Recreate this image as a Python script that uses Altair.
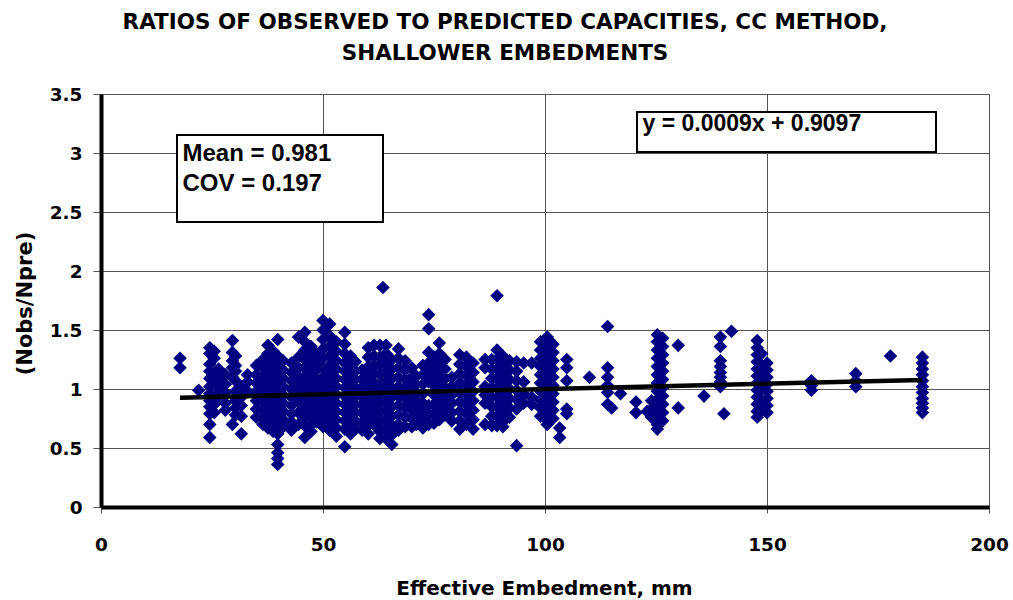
import altair as alt
import pandas as pd

# Effective embedment (mm) of each vertical cluster of points
embedment = [17.8, 22.0, 24.5, 25.5, 26.5, 28.0, 29.6, 30.3, 31.6, 33.0,
             35.0, 36.5, 37.6, 38.8, 39.8, 41.0, 42.9, 44.5, 45.9, 47.3,
             48.5, 50.0, 51.5, 53.0, 54.9, 56.2, 57.3, 58.8, 60.2, 61.5,
             62.8, 63.5, 64.2, 65.5, 67.0, 68.5, 70.0, 71.0, 72.5, 73.8,
             75.0, 76.2, 77.5, 79.0, 80.8, 82.3, 83.8, 86.5, 88.0, 89.2,
             90.5, 92.0, 93.6, 95.2, 97.0, 99.0, 100.5, 101.8, 103.3, 104.9,
             110.0, 114.1, 115.0, 117.0, 120.5, 123.0, 124.0, 125.3, 126.5, 130.0,
             135.8, 139.5, 140.3, 142.0, 147.8, 148.8, 150.0, 160.0, 170.0, 177.8,
             185.0]

# Observed / predicted ratios in each cluster
ratios = [
    [1.26, 1.18],
    [0.99],
    [1.35, 1.30, 1.21, 1.15, 1.09, 1.02, 0.96, 0.90, 0.85, 0.79, 0.70, 0.59],
    [1.32, 1.26, 1.12, 1.05, 0.93, 0.87, 0.80],
    [1.17, 1.07, 1.00, 0.94],
    [1.12, 1.04, 0.97, 0.88, 0.82],
    [1.41, 1.31, 1.24, 1.18, 1.10, 0.70],
    [1.28, 1.20, 1.15, 1.07, 0.98, 0.90, 0.84, 0.78],
    [1.02, 0.93, 0.86, 0.77, 0.62],
    [1.12, 1.06, 0.98],
    [1.20, 1.12, 1.05, 0.98, 0.90, 0.83, 0.76],
    [1.25, 1.18, 1.10, 1.03, 0.96, 0.89, 0.82, 0.75, 0.70],
    [1.37, 1.30, 1.22, 1.15, 1.08, 1.01, 0.94, 0.87, 0.80, 0.73, 0.67],
    [1.32, 1.26, 1.19, 1.12, 1.05, 0.98, 0.91, 0.84, 0.77, 0.70, 0.64],
    [1.42, 1.28, 1.20, 1.14, 1.07, 1.00, 0.93, 0.86, 0.79, 0.72, 0.62, 0.53, 0.46, 0.41, 0.36],
    [1.24, 1.16, 1.09, 1.02, 0.95, 0.88, 0.81, 0.74, 0.68],
    [1.22, 1.14, 1.07, 1.00, 0.93, 0.86, 0.79, 0.72, 0.65],
    [1.44, 1.27, 1.18, 1.10, 1.03, 0.96, 0.89, 0.80, 0.70],
    [1.48, 1.40, 1.33, 1.25, 1.18, 1.11, 1.04, 0.97, 0.90, 0.83, 0.76, 0.69, 0.59],
    [1.36, 1.28, 1.20, 1.13, 1.06, 0.99, 0.92, 0.85, 0.78, 0.70, 0.64],
    [1.30, 1.22, 1.16, 1.08, 1.01, 0.94, 0.86, 0.80, 0.72],
    [1.58, 1.50, 1.42, 1.34, 1.26, 1.18, 1.10, 1.03, 0.96, 0.89, 0.82, 0.75, 0.68],
    [1.55, 1.45, 1.36, 1.28, 1.20, 1.13, 1.06, 0.99, 0.92, 0.85, 0.78, 0.71, 0.65],
    [1.40, 1.32, 1.24, 1.17, 1.09, 1.02, 0.95, 0.88, 0.81, 0.74, 0.67, 0.60],
    [1.48, 1.38, 1.30, 1.22, 1.15, 1.08, 1.01, 0.94, 0.87, 0.80, 0.73, 0.66, 0.51],
    [1.28, 1.20, 1.12, 1.05, 0.98, 0.91, 0.84, 0.77, 0.70, 0.62],
    [1.23, 1.15, 1.08, 1.01, 0.94, 0.87, 0.80, 0.73, 0.66],
    [1.16, 1.08, 1.01, 0.94, 0.87, 0.80, 0.72, 0.65],
    [1.35, 1.27, 1.19, 1.11, 1.04, 0.97, 0.90, 0.83, 0.76, 0.69, 0.62],
    [1.37, 1.28, 1.20, 1.13, 1.05, 0.98, 0.91, 0.84, 0.77, 0.70],
    [1.37, 1.27, 1.20, 1.12, 1.04, 0.96, 0.88, 0.80, 0.72, 0.64, 0.58],
    [1.86],
    [1.37, 1.30, 1.22, 1.14, 1.06, 0.98, 0.90, 0.82, 0.74, 0.66, 0.58],
    [1.25, 1.17, 1.09, 1.01, 0.93, 0.85, 0.77, 0.69, 0.61, 0.53],
    [1.34, 1.26, 1.18, 1.10, 1.02, 0.94, 0.86, 0.78, 0.70, 0.65],
    [1.24, 1.16, 1.08, 1.00, 0.92, 0.84, 0.76, 0.68],
    [1.18, 1.10, 1.03, 0.96, 0.89, 0.82, 0.75, 0.68],
    [1.11, 1.04, 0.97, 0.90, 0.83, 0.76, 0.70],
    [1.20, 1.12, 1.04, 0.96, 0.88, 0.80, 0.72, 0.67],
    [1.63, 1.51, 1.31, 1.22, 1.14, 1.06, 0.86, 0.78, 0.70],
    [1.27, 1.19, 1.11, 1.03, 0.95, 0.87, 0.79, 0.71],
    [1.39, 1.30, 1.22, 1.14, 1.06, 0.98, 0.90, 0.82, 0.74],
    [1.25, 1.17, 1.09, 1.01, 0.93, 0.85, 0.78],
    [1.10, 1.02, 0.95, 0.88, 0.80, 0.73],
    [1.29, 1.21, 1.13, 1.05, 0.97, 0.89, 0.81, 0.73, 0.66],
    [1.27, 1.19, 1.11, 1.03, 0.95, 0.87, 0.79, 0.70],
    [1.22, 1.14, 1.06, 0.98, 0.90, 0.82, 0.74, 0.66],
    [1.25, 1.18, 1.02, 0.95, 0.88, 0.70],
    [1.25, 1.17, 1.09, 1.01, 0.93, 0.85, 0.77, 0.69],
    [1.79, 1.33, 1.25, 1.17, 1.09, 1.01, 0.93, 0.85, 0.77, 0.69],
    [1.28, 1.20, 1.12, 1.04, 0.96, 0.88, 0.80, 0.72, 0.68],
    [1.24, 1.16, 1.08, 1.00, 0.92, 0.84, 0.76],
    [1.23, 1.15, 1.07, 0.99, 0.91, 0.83, 0.52],
    [1.22, 1.06, 0.96, 0.88],
    [1.22, 0.93, 0.87],
    [1.40, 1.33, 1.26, 1.19, 1.12, 1.05, 0.98, 0.91, 0.84, 0.77],
    [1.44, 1.37, 1.30, 1.23, 1.16, 1.09, 1.02, 0.95, 0.88, 0.81, 0.74, 0.70],
    [1.38, 1.31, 1.24, 1.17, 1.10, 1.03, 0.96, 0.89, 0.82, 0.75],
    [0.67, 0.59],
    [1.25, 1.18, 1.07, 0.83, 0.79],
    [1.10],
    [1.53, 1.18, 1.10, 1.03, 0.97, 0.87],
    [0.84],
    [0.96],
    [0.89, 0.80],
    [0.81],
    [0.90, 0.83, 0.76],
    [1.46, 1.40, 1.33, 1.26, 1.19, 1.12, 1.05, 0.98, 0.91, 0.84, 0.77, 0.70, 0.66],
    [1.43, 1.36, 1.29, 1.22, 1.15, 1.08, 1.01, 0.94, 0.87, 0.80, 0.73],
    [1.37, 0.84],
    [0.94],
    [1.44, 1.36, 1.24, 1.19, 1.14, 1.10, 1.06, 1.02],
    [0.79],
    [1.49],
    [1.41, 1.35, 1.29, 1.23, 1.17, 1.11, 1.05, 0.99, 0.93, 0.87, 0.81, 0.76],
    [1.30, 1.20, 1.10, 1.00, 0.90, 0.82],
    [1.22, 1.16, 1.10, 1.04, 0.98, 0.92, 0.86, 0.80],
    [1.07, 1.03, 0.99],
    [1.13, 1.07, 1.02],
    [1.28],
    [1.27, 1.22, 1.17, 1.12, 1.07, 1.02, 0.97, 0.92, 0.88, 0.84, 0.80],
]

# Linear trend line as labelled on the chart
trend_x = [17.8, 185.0]
slope = 0.0009
intercept = 0.9097

title_lines = ["RATIOS OF OBSERVED TO PREDICTED CAPACITIES, CC METHOD,",
               "SHALLOWER EMBEDMENTS"]
stats_lines = ["Mean = 0.981", "COV = 0.197"]
equation_text = "y = 0.0009x + 0.9097"

rows = [{"x": e, "y": r} for e, rs in zip(embedment, ratios) for r in rs]
df = pd.DataFrame(rows)
trend = pd.DataFrame({"x": trend_x, "y": [slope * v + intercept for v in trend_x]})
one = pd.DataFrame({"k": [0]})

xscale = alt.Scale(domain=[0, 200], nice=False)
yscale = alt.Scale(domain=[0, 3.5], nice=False)

x_axis = alt.Axis(
    values=[0, 50, 100, 150, 200], format="d", title="Effective Embedment, mm",
    grid=True, gridColor="#555555", gridWidth=1,
    tickSize=6, tickColor="#555555", tickWidth=1,
    labelPadding=22, labelFontSize=18.5, labelFontWeight="bold", labelColor="black",
    labelFont="DejaVu Sans", labelFlush=False,
    titleFontSize=20, titleFontWeight="bold", titleColor="black", titleFont="DejaVu Sans",
    titleBaseline="alphabetic", titleY=87, titleX=443,
    domainColor="black", domainWidth=4,
)
y_axis = alt.Axis(
    values=[0, 0.5, 1, 1.5, 2, 2.5, 3, 3.5], format="~g", title="(Nobs/Npre)",
    grid=True, gridColor="#555555", gridWidth=1,
    tickSize=8, tickColor="#555555", tickWidth=1,
    labelPadding=11, labelFontSize=18.5, labelFontWeight="bold", labelColor="black",
    labelFont="DejaVu Sans", labelFlush=False,
    titleFontSize=21, titleFontWeight="bold", titleColor="black", titleFont="DejaVu Sans",
    titleAngle=270, titleBaseline="alphabetic", titleX=-70, titleY=209,
    domainColor="black", domainWidth=4,
)

points = alt.Chart(df).mark_point(
    shape="diamond", filled=True, size=185, color="#000080", opacity=1
).encode(
    x=alt.X("x:Q", scale=xscale, axis=x_axis),
    y=alt.Y("y:Q", scale=yscale, axis=y_axis),
)

line = alt.Chart(trend).mark_line(color="black", strokeWidth=4.5).encode(
    x=alt.X("x:Q", scale=xscale), y=alt.Y("y:Q", scale=yscale)
)

stats_box = alt.Chart(one).mark_rect(fill="white", stroke="black", strokeWidth=2).encode(
    x=alt.value(76), x2=alt.value(282), y=alt.value(41), y2=alt.value(128)
)
eq_box = alt.Chart(one).mark_rect(fill="white", stroke="black", strokeWidth=2).encode(
    x=alt.value(536), x2=alt.value(835), y=alt.value(18), y2=alt.value(58)
)

def label(text, x, y, size, font="Liberation Sans", align="left"):
    return alt.Chart(one).mark_text(
        align=align, baseline="alphabetic", font=font, fontWeight="bold",
        fontSize=size, color="black"
    ).encode(x=alt.value(x), y=alt.value(y), text=alt.value(text))

texts = [
    label(stats_lines[0], 81.5, 66.5, 24),
    label(stats_lines[1], 81.5, 97, 24),
    label(equation_text, 541.5, 37, 23),
    label(title_lines[0], 404, -65.5, 21.5, font="DejaVu Sans", align="center"),
    label(title_lines[1], 404, -34, 21.5, font="DejaVu Sans", align="center"),
]

chart = alt.layer(points, line, stats_box, eq_box, *texts).properties(
    width=888, height=413,
    autosize=alt.AutoSizeParams(type="none"),
    padding={"left": 101, "top": 94, "right": 24, "bottom": 93},
).configure_view(stroke="black", strokeWidth=3).configure(background="white")

chart.save("out.html", embed_options={"renderer": "svg", "actions": False})
